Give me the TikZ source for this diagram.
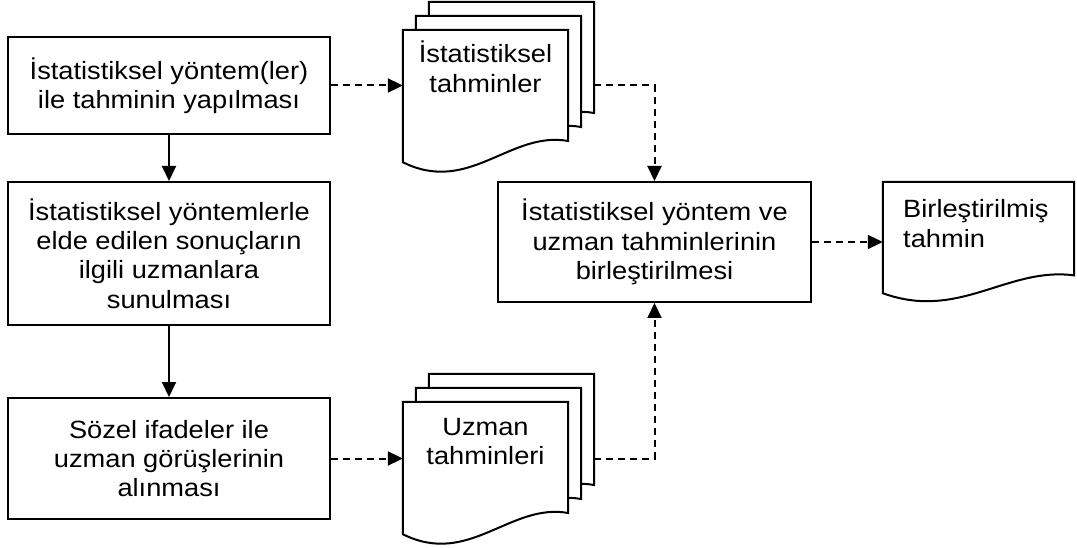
\documentclass[tikz,border=0pt]{standalone}
\usepackage{fontspec}
\setmainfont{Liberation Sans}[FakeStretch=1.09]
\usetikzlibrary{arrows.meta,calc}

% Document page: flat top, wavy bottom edge, drawn over the area of node #1
\newcommand\docshape[1]{%
  \path[docline] let \p1=(#1.north west), \p2=(#1.south east),
      \n1={\x2-\x1}, \n2={\y1-\y2} in
    (\x1,\y1) -- (\x2,\y1) -- (\x2,{\y2+0.16*\n2})
    .. controls ({\x1+0.65*\n1},{\y2+0.24*\n2}) and ({\x1+0.4*\n1},{\y2-0.25*\n2}) ..
    (\x1,\y2) -- cycle;}

\begin{document}
\begin{tikzpicture}[x=1pt,y=-1pt,
  every node/.style={font=\fontsize{25}{29.4}\selectfont},
  stepbox/.style={draw, line width=2pt, inner sep=0pt, align=center},
  docnode/.style={inner sep=0pt, minimum width=165pt, minimum height=132pt},
  doctext/.style={inner sep=0pt, align=center, anchor=base},
  docline/.style={draw, fill=white, line width=2pt, line join=miter},
  solidarrow/.style={line width=2pt, -{Triangle[length=15pt,width=14pt]}},
  dasharrow/.style={solidarrow, dash pattern=on 7pt off 5pt},
]
\useasboundingbox (0,0) rectangle (1077,548);
\fill[white] (0,0) rectangle (1077,548);

% process steps
\node[stepbox, minimum width=322pt, minimum height=97pt] (a) at (169,85.5)
  {İstatistiksel yöntem(ler)\\ile tahminin yapılması};
\node[stepbox, minimum width=322pt, minimum height=143pt] (b) at (169,253.5)
  {İstatistiksel yöntemlerle\\elde edilen sonuçların\\ilgili uzmanlara\\sunulması};
\node[stepbox, minimum width=322pt, minimum height=121pt] (c) at (169,458.5)
  {Sözel ifadeler ile\\uzman görüşlerinin\\alınması};
\node[stepbox, minimum width=313pt, minimum height=120pt] (d) at (654.5,242)
  {İstatistiksel yöntem ve\\uzman tahminlerinin\\birleştirilmesi};

% statistical forecasts: stack of three pages
\node[docnode] (d1c) at (511.5,68) {};
\node[docnode] (d1b) at (498.5,82) {};
\node[docnode] (d1a) at (485.5,96) {};
\docshape{d1c}\docshape{d1b}\docshape{d1a}
\node[doctext] (d1t) at (485.5,92.4) {İstatistiksel\\tahminler};

% expert forecasts: stack of three pages
\node[docnode] (d2c) at (511.5,440) {};
\node[docnode] (d2b) at (498.5,454) {};
\node[docnode] (d2a) at (485.5,468) {};
\docshape{d2c}\docshape{d2b}\docshape{d2a}
\node[doctext] (d2t) at (485.5,464.4) {Uzman\\tahminleri};

% combined forecast: single page
\node[docnode, minimum width=191pt, minimum height=111pt] (d3) at (978.5,237.5) {};
\docshape{d3}
\node[doctext, anchor=base west, align=left] (d3t) at (903,247.4) {Birleştirilmiş\\tahmin};

% connectors
\draw[solidarrow] (a) -- (b);
\draw[solidarrow] (b) -- (c);
\draw[dasharrow] (a.east) -- (a.east -| d1a.west);
\draw[dasharrow] (c.east) -- (c.east -| d2a.west);
\draw[dasharrow] (d1c.east |- a.east) -| (d.north);
\draw[dasharrow] (d2c.east |- c.east) -| (d.south);
\draw[dasharrow] (d.east) -- (d.east -| d3.west);
\end{tikzpicture}
\end{document}
